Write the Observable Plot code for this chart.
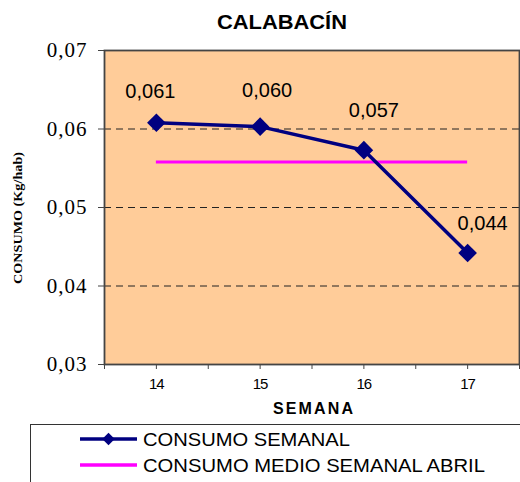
<!DOCTYPE html>
<html>
<head>
<meta charset="utf-8">
<script src="https://cdn.jsdelivr.net/npm/d3@7"></script>
<script src="https://cdn.jsdelivr.net/npm/@observablehq/plot@0.6"></script>
<style>
  html, body { margin: 0; padding: 0; background: #fff; }
  #wrap { position: relative; width: 520px; height: 482px; overflow: hidden; }
  #wrap svg { position: absolute; left: 0; top: 0; }
</style>
</head>
<body>
<div id="wrap"></div>
<script>
// ---- data ----
const weeks = [14, 15, 16, 17];
const consumoSemanal = [0.0608, 0.0603, 0.0573, 0.0442];
const consumoMedioAbril = 0.0558;
const yTicks = [0.03, 0.04, 0.05, 0.06, 0.07];
const gridValues = [0.04, 0.05, 0.06];
const title = "CALABACÍN";
const xLabel = "SEMANA";
const yLabel = "CONSUMO (Kg/hab)";
const seriesNames = ["CONSUMO SEMANAL", "CONSUMO MEDIO SEMANAL ABRIL"];

// ---- layout (label offsets, px) ----
const labelDx = [-6, 7, 10, 15];
const labelDy = [-31, -36, -40, -29];

const comma = v => v.toFixed(3).replace(".", ",");
const yFmt = v => v.toFixed(2).replace(".", ",");
const data = weeks.map((w, i) => ({week: w, value: consumoSemanal[i], label: comma(consumoSemanal[i]), i}));
const halfTicks = d3.range(weeks[0] - 0.5, weeks[weeks.length - 1] + 0.51, 0.5);

const navy = "#000080", magenta = "#FF00FF";
const sans = "'Liberation Sans', Arial, sans-serif";
const serif = "'Liberation Serif', 'Times New Roman', serif";

const labelMarks = data.map(d => Plot.text([d], {
  x: "week", y: "value", text: "label",
  dx: labelDx[d.i], dy: labelDy[d.i],
  fontSize: 20, fill: "#000"
}));

const chart = Plot.plot({
  width: 520,
  height: 482,
  marginLeft: 104,
  marginRight: 1,
  marginTop: 50,
  marginBottom: 118,
  style: {background: "transparent", color: "#000", overflow: "visible", fontFamily: sans},
  x: {domain: [weeks[0] - 0.5, weeks[weeks.length - 1] + 0.5]},
  y: {domain: [yTicks[0], yTicks[yTicks.length - 1]]},
  marks: [
    Plot.frame({fill: "#FFCC99", stroke: null}),
    Plot.ruleY(gridValues, {stroke: "#222", strokeWidth: 1, strokeDasharray: "7,5"}),
    Plot.frame({stroke: "#444", strokeWidth: 1.8}),
    Plot.axisY({ticks: yTicks, tickSize: 6, tickPadding: 11, tickFormat: yFmt,
      fontSize: 21, label: null, stroke: "#444"}),
    Plot.axisX({ticks: weeks, tickSize: 0, tickPadding: 14, tickFormat: d => String(d),
      fontSize: 15, label: null}),
    Plot.axisX({ticks: halfTicks, tickSize: 5, tickFormat: () => "", label: null, stroke: "#444"}),
    Plot.ruleY([consumoMedioAbril], {x1: weeks[0], x2: weeks[weeks.length - 1], stroke: magenta, strokeWidth: 3}),
    Plot.line(data, {x: "week", y: "value", stroke: navy, strokeWidth: 3.5}),
    Plot.dot(data, {x: "week", y: "value", symbol: "diamond2", r: 8.4, fill: navy, stroke: null}),
    ...labelMarks
  ]
});

document.getElementById("wrap").appendChild(chart);

// typeface tweaks for tick labels, applied directly to the text nodes
const yLabelSet = new Set(yTicks.map(yFmt));
const xLabelSet = new Set(weeks.map(String));
chart.querySelectorAll("text").forEach(t => {
  const s = t.textContent;
  if (yLabelSet.has(s)) {
    t.style.fontFamily = serif;
    t.style.fontSize = "21px";
    t.style.letterSpacing = "1px";
  } else if (xLabelSet.has(s)) {
    t.style.fontSize = "15px";
    t.style.letterSpacing = "-1px";
  }
});

// ---- overlay: title, axis titles, legend ----
const ns = "http://www.w3.org/2000/svg";
const ov = d3.select("#wrap").append("svg")
  .attr("xmlns", ns).attr("width", 520).attr("height", 482)
  .style("pointer-events", "none");

ov.append("text").text(title)
  .attr("x", 282).attr("y", 29).attr("text-anchor", "middle")
  .style("font-family", sans).attr("font-weight", "bold")
  .attr("font-size", 20).attr("textLength", 130).attr("lengthAdjust", "spacingAndGlyphs");

ov.append("text").text(xLabel)
  .attr("x", 313).attr("y", 414).attr("text-anchor", "middle")
  .style("font-family", sans).attr("font-weight", "bold")
  .attr("font-size", 16).attr("textLength", 80).attr("lengthAdjust", "spacing");

ov.append("text").text(yLabel)
  .attr("transform", "translate(22,218) rotate(-90)").attr("text-anchor", "middle")
  .style("font-family", serif).attr("font-weight", "bold")
  .attr("font-size", 13).attr("textLength", 132).attr("lengthAdjust", "spacingAndGlyphs");

// legend box
ov.append("rect").attr("x", 30.5).attr("y", 424.5).attr("width", 520).attr("height", 80)
  .attr("fill", "#fff").attr("stroke", "#333").attr("stroke-width", 1);

const legendY = [439, 465];
const legendW = [207, 342];
ov.append("line").attr("x1", 80).attr("x2", 137).attr("y1", legendY[0]).attr("y2", legendY[0])
  .attr("stroke", navy).attr("stroke-width", 3.5);
ov.append("path").attr("d", d3.symbol(d3.symbolDiamond2, 8.4 * 8.4 * Math.PI * 0.45)())
  .attr("transform", `translate(108.5,${legendY[0]})`).attr("fill", navy);
ov.append("line").attr("x1", 80).attr("x2", 137).attr("y1", legendY[1]).attr("y2", legendY[1])
  .attr("stroke", magenta).attr("stroke-width", 3.5);

seriesNames.forEach((name, i) => {
  ov.append("text").text(name)
    .attr("x", 143).attr("y", legendY[i] + 7)
    .style("font-family", sans)
    .attr("font-size", 19).attr("textLength", legendW[i]).attr("lengthAdjust", "spacingAndGlyphs");
});
</script>
</body>
</html>
